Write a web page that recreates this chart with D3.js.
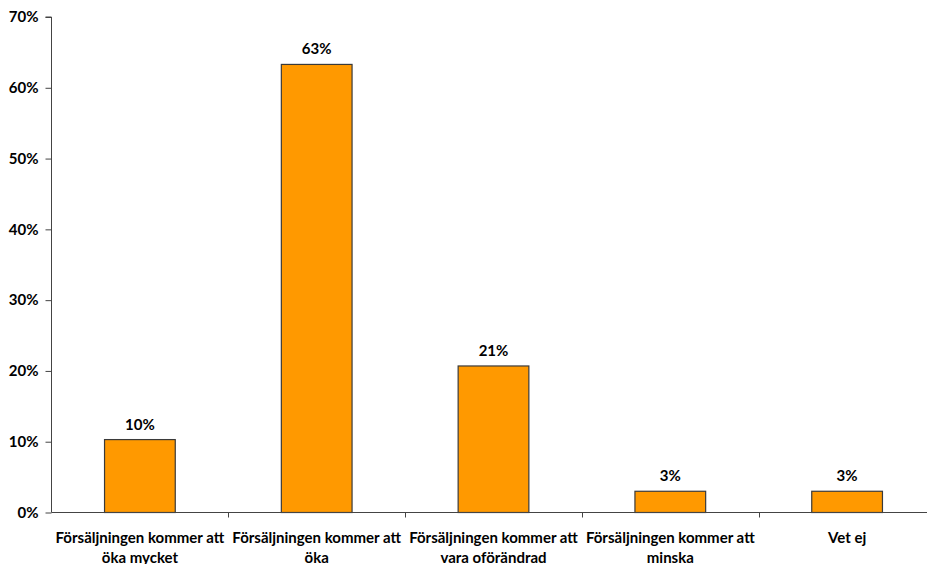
<!DOCTYPE html>
<html><head><meta charset="utf-8">
<script src="https://cdn.jsdelivr.net/npm/d3@7"></script>
<style>body{margin:0;background:#fff}svg{display:block}text{font-family:Lato,"Open Sans",sans-serif;font-weight:bold;fill:#000}</style>
</head><body>
<svg id="c" width="927" height="564"></svg>
<script>
const categories = [
  ["Försäljningen kommer att", "öka mycket"],
  ["Försäljningen kommer att", "öka"],
  ["Försäljningen kommer att", "vara oförändrad"],
  ["Försäljningen kommer att", "minska"],
  ["Vet ej"]
];
const values = [10.3, 63.3, 20.7, 3.0, 3.0];
const valueLabels = ["10%", "63%", "21%", "3%", "3%"];
const yTicks = [0, 10, 20, 30, 40, 50, 60, 70];

(function () {
const svg = d3.select("#c");
const mLeft = 51.5, mRight = 935.5, mTop = 17, mBottom = 512.5;
const fs = 15;
const x = d3.scaleBand().domain(d3.range(categories.length)).range([mLeft, mRight]).padding(0);
const y = d3.scaleLinear().domain([0, 70]).range([mBottom, mTop]);
const barW = x.bandwidth() * 0.4;

// bars
svg.append("g").selectAll("rect").data(values).join("rect")
  .attr("x", (d, i) => x(i) + x.bandwidth() / 2 - barW / 2)
  .attr("y", d => y(d))
  .attr("width", barW)
  .attr("height", d => y(0) - y(d))
  .attr("fill", "#FF9900")
  .attr("stroke", "#3a3a3a")
  .attr("stroke-width", 1.2);

// value labels
svg.append("g").selectAll("text").data(values).join("text")
  .attr("x", (d, i) => x(i) + x.bandwidth() / 2)
  .attr("y", d => y(d) - 10)
  .attr("text-anchor", "middle")
  .attr("font-size", fs)
  .text((d, i) => valueLabels[i]);

// y axis
const yAxis = d3.axisLeft(y).tickValues(yTicks).tickFormat(d => d + "%").tickSize(6).tickPadding(7);
const gy = svg.append("g").attr("transform", `translate(${mLeft},0)`).call(yAxis);
gy.select(".domain").attr("stroke", "#444").attr("d", `M-6,${mTop}H0V${mBottom}`);
gy.selectAll(".tick line").attr("stroke", "#444");
gy.selectAll(".tick text").attr("font-size", fs).attr("font-family", "Lato,'Open Sans',sans-serif").attr("font-weight", "bold").attr("fill", "#000");

// x axis
const gx = svg.append("g").attr("transform", `translate(0,${mBottom})`);
gx.append("line").attr("x1", mLeft).attr("x2", mRight).attr("stroke", "#444");
gx.selectAll("line.t").data(d3.range(1, categories.length)).join("line").attr("class", "t")
  .attr("x1", i => Math.round(x(i)) + 0.5).attr("x2", i => Math.round(x(i)) + 0.5)
  .attr("y1", 0).attr("y2", 5).attr("stroke", "#444");
const lbl = gx.selectAll("text").data(categories).join("text")
  .attr("text-anchor", "middle")
  .attr("font-size", fs)
  .attr("transform", (d, i) => `translate(${x(i) + x.bandwidth() / 2},0)`);
lbl.selectAll("tspan").data(d => d).join("tspan")
  .attr("x", 0).attr("y", (d, j) => 30 + j * 20).text(d => d);
})();
</script>
</body></html>
